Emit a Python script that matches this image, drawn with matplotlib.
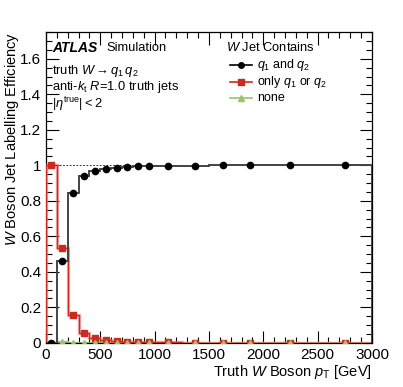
import numpy as np
import matplotlib.pyplot as plt
from matplotlib.ticker import MultipleLocator

plt.rcParams['font.family'] = ['Liberation Sans', 'DejaVu Sans']
plt.rcParams['mathtext.fontset'] = 'custom'
plt.rcParams['mathtext.rm'] = 'Liberation Sans'
plt.rcParams['mathtext.it'] = 'Liberation Sans:italic'
plt.rcParams['mathtext.bf'] = 'Liberation Sans:bold'

# bin edges in truth W pT [GeV]
edges = [0, 100, 200, 300, 400, 500, 600, 700, 800, 900, 1000,
         1250, 1500, 1750, 2000, 2500, 3000]
both_q = [0.0, 0.46, 0.845, 0.94, 0.97, 0.98, 0.987, 0.992, 0.995, 0.996,
          0.997, 0.998, 0.999, 0.999, 0.999, 0.999]
one_q = [1.0, 0.535, 0.155, 0.055, 0.027, 0.016, 0.011, 0.007, 0.005, 0.004,
         0.003, 0.002, 0.001, 0.001, 0.001, 0.001]
no_q = [0.002, 0.003, 0.002, 0.002, 0.002, 0.002, 0.002, 0.001, 0.001, 0.001,
        0.001, 0.001, 0.001, 0.001, 0.001, 0.001]

edges = np.array(edges)
centers = 0.5 * (edges[1:] + edges[:-1])

black = 'black'
red = '#cc2a1e'
green = '#99c46a'

fig = plt.figure(figsize=(4.03, 3.87), dpi=100)
ax = fig.add_axes([0.114, 0.114, 0.809, 0.803])

ax.axhline(1.0, color='black', lw=0.6, ls=(0, (2, 2)), zorder=1)

ax.stairs(no_q, edges, color=green, lw=1.5, zorder=2)
ax.stairs(one_q, edges, color='#f08080', lw=2.4, alpha=0.6, zorder=3)
ax.stairs(one_q, edges, color=red, lw=1.0, zorder=3)
ax.stairs(both_q, edges, color='#444444', lw=1.4, zorder=4)

ax.plot(centers, both_q, 'o', color=black, ms=4.5, zorder=6)
ax.plot(centers, one_q, 's', color=red, ms=4.5, zorder=5)
ax.plot(centers, no_q, '^', color=green, ms=4, zorder=5)

ax.set_xlim(0, 3000)
ax.set_ylim(0, 1.75)
ax.xaxis.set_major_locator(MultipleLocator(500))
ax.xaxis.set_minor_locator(MultipleLocator(100))
ax.yaxis.set_minor_locator(MultipleLocator(0.05))
ax.set_yticks(np.arange(0, 1.7, 0.2))
ax.set_yticklabels(['0', '0.2', '0.4', '0.6', '0.8', '1', '1.2', '1.4', '1.6'])
ax.tick_params(which='both', direction='in', top=True, right=True, labelsize=11)
ax.tick_params(which='major', length=9, width=0.8)
ax.tick_params(which='minor', length=4.5, width=0.8)
for s in ax.spines.values():
    s.set_linewidth(0.9)

ax.set_xlabel(r'Truth $W$ Boson $p_{\mathrm{T}}$ [GeV]', fontsize=10.5, ha='right', va='center')
ax.xaxis.set_label_coords(1.0, -0.093)
ax.set_ylabel(r'$W$ Boson Jet Labelling Efficiency', fontsize=10.5, ha='right', va='center')
ax.yaxis.set_label_coords(-0.104, 1.0)

ax.text(0.018, 0.949, 'ATLAS', transform=ax.transAxes, fontsize=10,
        fontweight='bold', fontstyle='italic', va='center')
ax.text(0.187, 0.949, 'Simulation', transform=ax.transAxes, fontsize=9.3, va='center')
ax.text(0.018, 0.875, r'truth $W \rightarrow q_1\, q_2$', transform=ax.transAxes,
        fontsize=9.3, va='center')
ax.text(0.018, 0.823, r'anti-$k_{\mathrm{t}}$ $R$=1.0 truth jets', transform=ax.transAxes,
        fontsize=9.3, va='center')
ax.text(0.018, 0.768, r'$|\eta^{\mathrm{true}}| < 2$', transform=ax.transAxes,
        fontsize=9.3, va='center')

ax.text(0.552, 0.949, r'$W$ Jet Contains', transform=ax.transAxes, fontsize=9.3, va='center')
leg_y = [0.894, 0.839, 0.788]
leg_lab = [r'$q_1$ and $q_2$', r'only $q_1$ or $q_2$', 'none']
leg_col = [black, red, green]
leg_mk = ['o', 's', '^']
for yy, lab, col, mk in zip(leg_y, leg_lab, leg_col, leg_mk):
    ax.plot([0.564, 0.632], [yy, yy], color=col, lw=1.2, transform=ax.transAxes)
    ax.plot([0.598], [yy], mk, color=col, ms=4, transform=ax.transAxes)
    ax.text(0.647, yy, lab, transform=ax.transAxes, fontsize=9, va='center')

fig.savefig('out.png', dpi=100)
